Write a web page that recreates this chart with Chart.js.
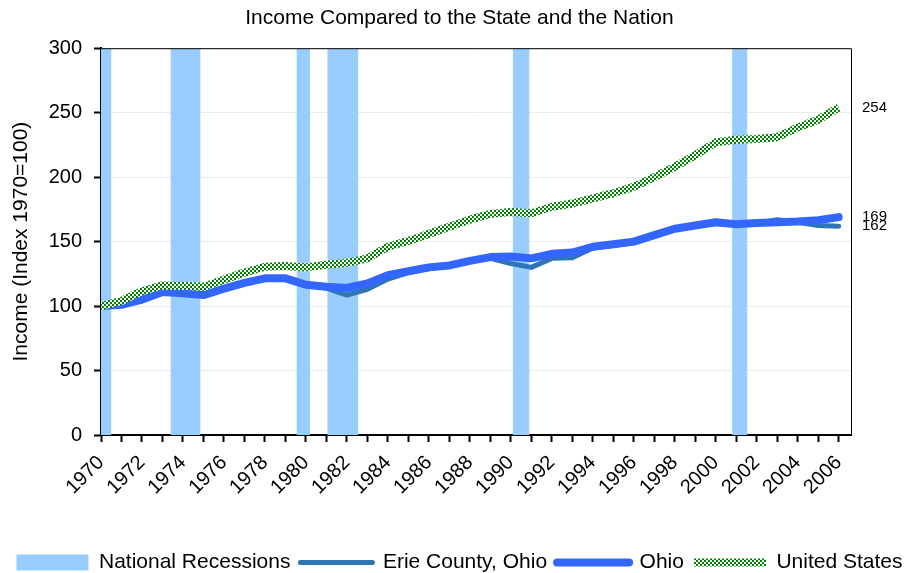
<!DOCTYPE html>
<html>
<head>
<meta charset="utf-8">
<title>Income Compared to the State and the Nation</title>
<script src="https://cdn.jsdelivr.net/npm/chart.js@4.4.1/dist/chart.umd.min.js"></script>
<style>
    html, body { margin: 0; padding: 0; background: #fff; }
    #wrap { width: 919px; height: 573px; }
</style>
</head>
<body>
<div id="wrap"><canvas id="myChart"></canvas></div>
<script>
const years = [1970, 1971, 1972, 1973, 1974, 1975, 1976, 1977, 1978, 1979,
    1980, 1981, 1982, 1983, 1984, 1985, 1986, 1987, 1988, 1989,
    1990, 1991, 1992, 1993, 1994, 1995, 1996, 1997, 1998, 1999,
    2000, 2001, 2002, 2003, 2004, 2005, 2006];

const erieCounty = [100, 101, 104, 110, 110, 108, 113, 118, 121, 121,
    116, 114, 108.5, 113, 121, 126, 129, 131, 135, 137,
    133, 130, 137, 137.5, 145, 147, 149, 154, 160, 162,
    164, 163, 164, 167, 165, 162.5, 162];

const ohio = [100, 101, 105, 111, 110, 108.5, 113.5, 118, 121.5, 121.5,
    116.5, 115, 114, 117.5, 124, 127, 130, 131.5, 135, 138,
    138.5, 137, 140.5, 141.5, 146, 148, 150, 155, 160, 162.5,
    165, 163.5, 164.5, 165, 165.5, 166.5, 169];

const unitedStates = [100, 104, 111.5, 116, 115.5, 115, 120.5, 126, 130.5, 131,
    130, 132, 133.5, 137, 146, 150.5, 156, 161.5, 167, 171.5,
    173, 172, 177, 179.5, 183.5, 187.5, 192.5, 200, 208, 217,
    227, 229, 229.5, 231, 238.5, 244.5, 254];

// recession periods (fractional years)
const recessionStart = [1970, 1973.4, 1979.55, 1981.05, 1990.1, 2000.8];
const recessionEnd = [1970.5, 1974.85, 1980.2, 1982.55, 1990.9, 2001.55];

const yTicks = [0, 50, 100, 150, 200, 250, 300];

const FONT = '"Liberation Sans", Arial, sans-serif';
const yTop = yTicks[yTicks.length - 1];

// green / white checker for the US line
function checker() {
    const c = document.createElement('canvas');
    c.width = 4;
    c.height = 4;
    const g = c.getContext('2d');
    g.fillStyle = '#ffffff';
    g.fillRect(0, 0, 4, 4);
    g.fillStyle = '#008000';
    g.fillRect(0, 0, 2, 2);
    g.fillRect(2, 2, 2, 2);
    return g.createPattern(c, 'repeat');
}
const usPattern = checker();

function toPoints(values) {
    return years.map((yr, i) => ({ x: yr, y: values[i] }));
}

// recession shading as a filled outline that drops back to zero between periods
const recessionPoints = [];
recessionStart.forEach((s, i) => {
    recessionPoints.push({ x: s, y: 0 }, { x: s, y: yTop }, { x: recessionEnd[i], y: yTop }, { x: recessionEnd[i], y: 0 });
});

const datasets = [
    {
        label: 'National Recessions',
        data: recessionPoints,
        borderWidth: 0,
        borderColor: 'rgba(0,0,0,0)',
        backgroundColor: '#99CCFF',
        fill: 'origin',
        pointRadius: 0,
        order: 3,
        legendStyle: 'rect', legendWidth: 0, legendFill: '#99CCFF', legendStroke: '#99CCFF', legendCap: 'butt'
    },
    {
        label: 'Erie County, Ohio',
        data: toPoints(erieCounty),
        borderColor: '#2E75B6',
        borderWidth: 5,
        borderCapStyle: 'round',
        borderJoinStyle: 'round',
        pointRadius: 0,
        order: 2,
        endLabel: true,
        legendStyle: 'line', legendWidth: 5, legendFill: '#2E75B6', legendStroke: '#2E75B6', legendCap: 'round'
    },
    {
        label: 'Ohio',
        data: toPoints(ohio),
        borderColor: '#3366FF',
        borderWidth: 8,
        borderCapStyle: 'round',
        borderJoinStyle: 'round',
        pointRadius: 0,
        order: 1,
        endLabel: true,
        legendStyle: 'line', legendWidth: 8, legendFill: '#3366FF', legendStroke: '#3366FF', legendCap: 'round'
    },
    {
        label: 'United States',
        data: toPoints(unitedStates),
        borderColor: usPattern,
        borderWidth: 8,
        borderJoinStyle: 'round',
        pointRadius: 0,
        order: 0,
        endLabel: true,
        legendStyle: 'line', legendWidth: 8, legendFill: usPattern, legendStroke: usPattern, legendCap: 'butt'
    }
];

// values written at the right end of each line
const endLabels = {
    id: 'endLabels',
    afterDatasetsDraw(chart) {
        const ctx = chart.ctx;
        const y = chart.scales.y;
        ctx.save();
        ctx.font = '15px ' + FONT;
        ctx.fillStyle = '#000';
        ctx.textBaseline = 'middle';
        ctx.textAlign = 'left';
        chart.data.datasets.forEach(ds => {
            if (!ds.endLabel) return;
            const last = ds.data[ds.data.length - 1].y;
            ctx.fillText(String(Math.round(last)), chart.chartArea.right + 11, y.getPixelForValue(last));
        });
        ctx.restore();
    }
};

// thin frame on the top and right of the plot
const plotFrame = {
    id: 'plotFrame',
    afterDatasetsDraw(chart) {
        const a = chart.chartArea;
        const ctx = chart.ctx;
        ctx.save();
        ctx.strokeStyle = '#000';
        ctx.lineWidth = 1;
        ctx.beginPath();
        ctx.moveTo(a.left, a.top + 0.5);
        ctx.lineTo(a.right + 0.5, a.top + 0.5);
        ctx.lineTo(a.right + 0.5, a.bottom);
        ctx.stroke();
        ctx.restore();
    }
};

const ctx = document.getElementById('myChart').getContext('2d');

const myChart = new Chart(ctx, {
    type: 'line',
    data: { datasets: datasets },
    plugins: [endLabels, plotFrame],
    options: {
        responsive: true,
        maintainAspectRatio: false,
        animation: false,
        devicePixelRatio: 1,
        layout: { padding: { left: 0, right: 0, top: 0, bottom: -10 } },
        elements: { line: { tension: 0 } },
        scales: {
            x: {
                type: 'linear',
                min: years[0],
                max: 2006.6,
                afterBuildTicks: s => { s.ticks = years.map(v => ({ value: v })); },
                afterFit: s => { s.height = 107; },
                ticks: {
                    autoSkip: false,
                    minRotation: 45,
                    maxRotation: 45,
                    padding: 9,
                    color: '#000',
                    font: { family: FONT, size: 20 },
                    callback: v => (v % 2 === 0 ? String(v) : '')
                },
                grid: {
                    drawOnChartArea: false,
                    drawTicks: true,
                    tickLength: 7,
                    tickColor: '#000',
                    tickWidth: 2
                },
                border: { color: '#000', width: 2 }
            },
            y: {
                min: yTicks[0],
                max: yTop,
                afterBuildTicks: s => { s.ticks = yTicks.map(v => ({ value: v })); },
                afterFit: s => { s.width = 101; },
                ticks: {
                    padding: 12,
                    color: '#000',
                    font: { family: FONT, size: 20 }
                },
                grid: {
                    color: '#ebebeb',
                    lineWidth: 1,
                    tickLength: 7,
                    tickColor: '#000',
                    tickWidth: 2
                },
                border: { color: '#000', width: 2 },
                title: {
                    display: true,
                    text: 'Income (Index 1970=100)',
                    color: '#000',
                    font: { family: FONT, size: 21 },
                    padding: { top: 9, bottom: 4 }
                }
            },
            // empty right-hand strip that holds the end-of-line values
            side: {
                position: 'right',
                display: true,
                afterFit: s => { s.width = 68; },
                ticks: { display: false },
                grid: { display: false, drawTicks: false },
                border: { display: false }
            }
        },
        plugins: {
            title: {
                display: true,
                text: 'Income Compared to the State and the Nation',
                color: '#000',
                font: { family: FONT, size: 21, weight: 'normal' },
                padding: { top: 6, bottom: 17 }
            },
            legend: {
                position: 'bottom',
                labels: {
                    usePointStyle: true,
                    pointStyleWidth: 72,
                    boxHeight: 16,
                    padding: 10,
                    color: '#000',
                    font: { family: FONT, size: 21 },
                    sort: (a, b) => a.datasetIndex - b.datasetIndex,
                    generateLabels: chart => chart.data.datasets.map((d, i) => ({
                        text: d.label,
                        datasetIndex: i,
                        hidden: false,
                        fillStyle: d.legendFill,
                        strokeStyle: d.legendStroke,
                        lineWidth: d.legendWidth,
                        lineCap: d.legendCap,
                        pointStyle: d.legendStyle,
                        fontColor: '#000'
                    }))
                }
            },
            tooltip: { enabled: false }
        }
    }
});
</script>
</body>
</html>
